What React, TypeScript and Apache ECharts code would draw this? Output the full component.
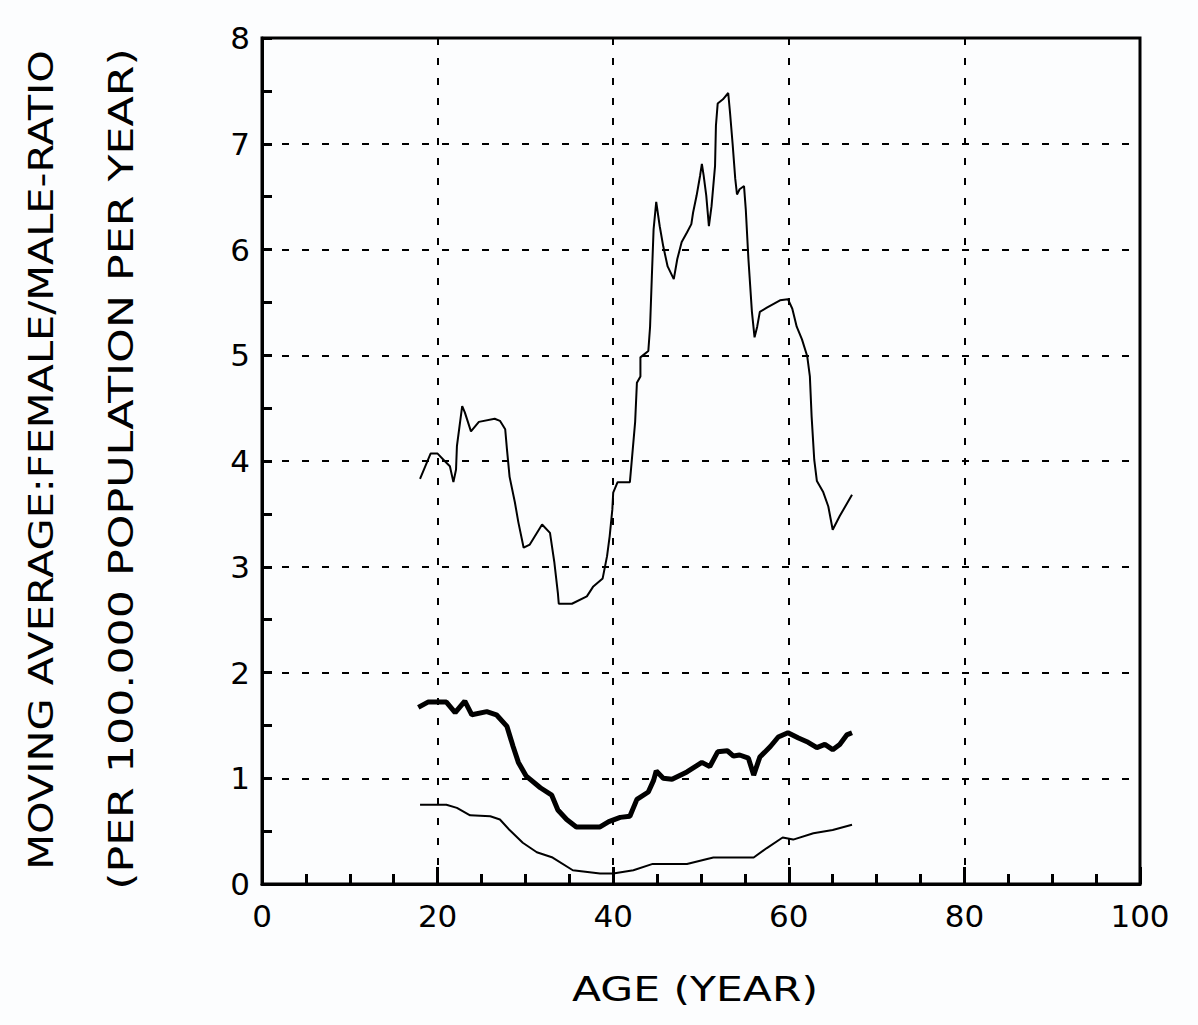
import React, { useEffect, useRef } from "react";
import * as echarts from "echarts";

// Upper thin curve: [age, ratio]
const upperCurve: [number, number][] = [
  [18.0, 3.83], [19.2, 4.07], [20.0, 4.07], [20.8, 4.0], [21.4, 3.95], [21.8, 3.8],
  [22.1, 3.92], [22.2, 4.14], [22.8, 4.52], [23.1, 4.46], [23.8, 4.28], [24.7, 4.37],
  [26.5, 4.4], [27.1, 4.38], [27.7, 4.3], [27.9, 4.11], [28.2, 3.85], [28.8, 3.61],
  [29.2, 3.42], [29.8, 3.18], [30.5, 3.21], [31.9, 3.4], [32.8, 3.32], [33.3, 3.04],
  [33.7, 2.75], [33.8, 2.65], [35.3, 2.65], [37.0, 2.72], [37.7, 2.81], [38.8, 2.89],
  [39.3, 3.1], [39.6, 3.29], [39.9, 3.54], [40.0, 3.7], [40.5, 3.8], [41.9, 3.8],
  [42.1, 3.99], [42.5, 4.37], [42.7, 4.74], [43.1, 4.8], [43.1, 4.98], [44.0, 5.04],
  [44.2, 5.27], [44.4, 5.74], [44.6, 6.19], [44.9, 6.45], [45.3, 6.22], [45.7, 6.03],
  [46.2, 5.84], [46.9, 5.72], [47.3, 5.91], [47.8, 6.07], [48.4, 6.16], [48.9, 6.24],
  [49.1, 6.35], [49.5, 6.51], [49.9, 6.7], [50.1, 6.81], [50.3, 6.7], [50.6, 6.51],
  [50.9, 6.22], [51.2, 6.41], [51.6, 6.79], [51.7, 7.17], [51.9, 7.38], [52.5, 7.42],
  [53.1, 7.48], [53.3, 7.3], [53.6, 7.0], [53.9, 6.67], [54.1, 6.52], [54.4, 6.57],
  [54.9, 6.6], [55.1, 6.38], [55.4, 5.91], [55.8, 5.41], [56.1, 5.17], [56.4, 5.27],
  [56.7, 5.41], [57.5, 5.45], [59.0, 5.52], [59.9, 5.53], [60.4, 5.44], [60.9, 5.27],
  [61.5, 5.15], [62.1, 4.99], [62.4, 4.8], [62.6, 4.42], [62.9, 4.01], [63.2, 3.81],
  [63.9, 3.71], [64.5, 3.57], [65.0, 3.35], [65.8, 3.48], [67.2, 3.68],
];

// Middle thick curve
const middleCurve: [number, number][] = [
  [17.8, 1.67], [18.9, 1.72], [21.0, 1.72], [22.0, 1.62], [23.1, 1.73], [23.9, 1.6],
  [25.6, 1.63], [26.7, 1.6], [27.9, 1.49], [28.6, 1.3], [29.2, 1.15], [30.1, 1.02],
  [31.7, 0.91], [33.0, 0.84], [33.7, 0.7], [34.7, 0.61], [35.8, 0.54], [38.5, 0.54],
  [39.5, 0.59], [40.8, 0.63], [41.9, 0.64], [42.7, 0.8], [44.0, 0.87], [44.6, 0.98],
  [44.9, 1.07], [45.7, 1.0], [46.7, 0.99], [48.4, 1.06], [50.1, 1.15], [51.0, 1.11],
  [51.9, 1.25], [53.0, 1.26], [53.7, 1.21], [54.4, 1.22], [55.4, 1.19], [56.0, 1.03],
  [56.7, 1.2], [57.9, 1.3], [58.8, 1.39], [59.9, 1.43], [61.1, 1.38], [62.2, 1.34],
  [63.2, 1.29], [64.1, 1.32], [65.0, 1.27], [65.8, 1.32], [66.6, 1.41], [67.2, 1.43],
];

// Lower thin curve
const lowerCurve: [number, number][] = [
  [18.0, 0.75], [21.0, 0.75], [22.2, 0.72], [23.7, 0.65], [26.0, 0.64], [27.1, 0.61],
  [28.2, 0.51], [29.7, 0.39], [31.3, 0.3], [33.1, 0.25], [35.4, 0.13], [38.5, 0.1],
  [40.0, 0.1], [42.3, 0.13], [44.5, 0.19], [48.4, 0.19], [51.4, 0.25], [56.0, 0.25],
  [57.5, 0.34], [59.3, 0.44], [60.5, 0.42], [62.8, 0.48], [65.0, 0.51], [67.2, 0.56],
];

const xTicks = [0, 20, 40, 60, 80, 100];
const yTicks = [0, 1, 2, 3, 4, 5, 6, 7, 8];

const yTitle1 = "MOVING AVERAGE:FEMALE/MALE-RATIO";
const yTitle2 = "(PER 100.000 POPULATION PER YEAR)";
const xTitle = "AGE (YEAR)";

const TITLE_FONT = "DejaVu Sans";
const TITLE_SIZE = 34;

function measure(text: string, size: number, family: string): number {
  const c = document.createElement("canvas");
  const ctx = c.getContext("2d");
  if (!ctx) return text.length * size * 0.65;
  ctx.font = `${size}px "${family}"`;
  return ctx.measureText(text).width;
}

export default function App() {
  const ref = useRef<HTMLDivElement>(null);
  useEffect(() => {
    if (!ref.current) return;
    const chart = echarts.init(ref.current, null, { renderer: "svg" });
    const s1 = 820 / measure(yTitle1, TITLE_SIZE, TITLE_FONT);
    const s2 = 842 / measure(yTitle2, TITLE_SIZE, TITLE_FONT);
    const s3 = 246 / measure(xTitle, TITLE_SIZE, TITLE_FONT);
    const titleStyle = {
      fill: "#000",
      font: `${TITLE_SIZE}px "${TITLE_FONT}"`,
      align: "center",
      verticalAlign: "middle",
    };
    chart.setOption({
      animation: false,
      backgroundColor: "#fcfdfe",
      grid: {
        left: 262,
        right: 58,
        top: 38,
        bottom: 141,
        show: true,
        borderColor: "#000",
        borderWidth: 3,
        backgroundColor: "transparent",
      },
      xAxis: {
        type: "value",
        min: 0,
        max: 100,
        interval: 20,
        axisLine: { show: true, lineStyle: { color: "#000", width: 3 } },
        axisTick: { show: true, inside: true, length: 17, lineStyle: { color: "#000", width: 3 } },
        minorTick: { show: true, splitNumber: 4, length: 10, lineStyle: { color: "#000", width: 3 } },
        splitLine: { show: true, lineStyle: { color: "#000", width: 2, type: [7, 13] } },
        axisLabel: {
          color: "#000",
          fontFamily: "DejaVu Sans",
          fontSize: 31,
          margin: 16,
          formatter: (v: number) => (xTicks.includes(v) ? String(v) : ""),
        },
      },
      yAxis: {
        type: "value",
        min: 0,
        max: 8,
        interval: 1,
        axisLine: { show: true, lineStyle: { color: "#000", width: 3 } },
        axisTick: { show: true, inside: true, length: 10, lineStyle: { color: "#000", width: 3 } },
        minorTick: { show: true, splitNumber: 2, length: 10, lineStyle: { color: "#000", width: 3 } },
        splitLine: { show: true, lineStyle: { color: "#000", width: 2, type: [7, 13] } },
        axisLabel: {
          color: "#000",
          fontFamily: "DejaVu Sans",
          fontSize: 31,
          margin: 12,
          formatter: (v: number) => (yTicks.includes(v) ? String(v) : ""),
        },
      },
      series: [
        {
          type: "line",
          data: upperCurve,
          showSymbol: false,
          lineStyle: { color: "#000", width: 2 },
          z: 5,
        },
        {
          type: "line",
          data: middleCurve,
          showSymbol: false,
          lineStyle: { color: "#000", width: 5 },
          z: 5,
        },
        {
          type: "line",
          data: lowerCurve,
          showSymbol: false,
          lineStyle: { color: "#000", width: 2 },
          z: 5,
        },
      ],
      graphic: [
        {
          type: "text",
          x: 41,
          y: 460,
          rotation: Math.PI / 2,
          scaleX: s1,
          style: { ...titleStyle, text: yTitle1 },
        },
        {
          type: "text",
          x: 121,
          y: 469,
          rotation: Math.PI / 2,
          scaleX: s2,
          style: { ...titleStyle, text: yTitle2 },
        },
        {
          type: "text",
          x: 695,
          y: 989,
          scaleX: s3,
          style: { ...titleStyle, text: xTitle },
        },
      ],
    });
    return () => chart.dispose();
  }, []);
  return (
    <div
      ref={ref}
      style={{ position: "absolute", left: 0, top: 0, width: 1198, height: 1025 }}
    />
  );
}
